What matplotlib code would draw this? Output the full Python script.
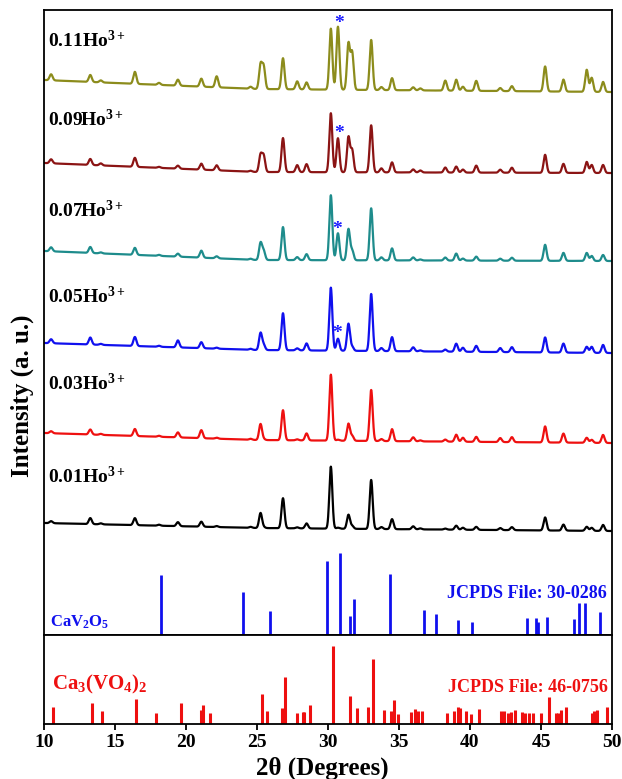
import numpy as np
import matplotlib
matplotlib.use('Agg')
import matplotlib.pyplot as plt

# --- data ---------------------------------------------------------------
# peak positions (2theta, deg) shared by all measured patterns
peak_pos = [10.5, 13.26, 14.0, 16.4, 18.1, 19.43, 21.08, 22.16, 24.55,
            25.25, 25.47, 26.83, 27.83, 28.49, 30.2, 30.7, 31.44, 31.7,
            33.04, 33.76, 34.51, 36.0, 36.5, 38.26, 39.03, 39.5, 40.44,
            42.13, 42.95, 45.29, 46.58, 48.22, 48.57, 49.37]

# peak heights above background (a.u.)
h_011 = [6, 7, 2, 12, 2, 6, 8, 11, 2, 24, 22, 31, 8, 7, 61, 63, 46, 37,
         50, 3, 12, 3, 2, 10, 11, 4, 10, 3, 5, 25, 12, 22, 14, 10]
h_009 = [4, 6, 2, 9, 1, 3, 6, 5, 1, 17, 16, 34, 7, 8, 59, 34, 35, 22,
         47, 4, 10, 3, 2, 5, 6, 3, 7, 3, 5, 18, 9, 11, 8, 8]
h_007 = [4, 6, 1, 7, 1, 3, 7, 2, 1, 17, 9, 33, 3, 6, 65, 27, 31, 10,
         52, 3, 12, 3, 1, 3, 7, 2, 4, 2, 3, 16, 8, 8, 5, 6]
h_005 = [4, 7, 1, 9, 1, 7, 6, 1, 1, 17, 5, 37, 2, 7, 63, 12, 27, 4,
         57, 3, 14, 4, 1, 2, 8, 4, 6, 4, 5, 15, 9, 6, 6, 8]
h_003 = [2, 5, 1, 7, 1, 5, 8, 1, 1, 16, 1, 30, 1, 7, 66, 1, 17, 5,
         51, 2, 12, 4, 1, 2, 7, 4, 5, 4, 5, 16, 9, 5, 3, 8]
h_001 = [2, 6, 1, 7, 1, 4, 5, 1, 1, 15, 1, 30, 1, 5, 62, 1, 14, 3,
         49, 2, 10, 3, 1, 1, 4, 2, 3, 2, 3, 13, 6, 4, 3, 6]

# background level at 10, 25 and 50 deg
bg_pos = [10, 25, 50]
bg_011 = [555, 546, 543]
bg_009 = [472, 463, 462]
bg_007 = [384, 375, 374]
bg_005 = [292, 285, 282]
bg_003 = [202, 195, 192]
bg_001 = [112, 107, 104]

samples = ['0.11', '0.09', '0.07', '0.05', '0.03', '0.01']
heights = [h_011, h_009, h_007, h_005, h_003, h_001]
backgrounds = [bg_011, bg_009, bg_007, bg_005, bg_003, bg_001]
colors = ['#8c8c1c', '#8b1414', '#1e8c8c', '#1010ee', '#ee1010', '#000000']

# asterisk (CaV2O5 impurity) marks: 2theta, height
star_pos = [30.76, 30.76, 30.65, 30.67]
star_y = [611, 502, 406, 301]

# CaV2O5, JCPDS 30-0286
cav_pos = [18.23, 24.04, 25.91, 29.9, 30.83, 31.58, 31.86, 34.39, 36.74,
           37.63, 39.13, 40.14, 44.0, 44.66, 44.82, 45.45, 47.33, 47.66,
           48.13, 49.16]
cav_int = [60, 43, 24, 74, 82, 19, 36, 61, 25, 21, 15, 13, 17, 17, 13, 18,
           16, 32, 32, 23]

# Ca3(VO4)2, JCPDS 46-0756
cvo_pos = [10.63, 13.37, 14.05, 16.51, 17.92, 19.63, 21.04, 21.22, 21.69,
           25.37, 25.7, 26.78, 26.97, 27.83, 28.21, 28.3, 28.7, 30.37,
           31.58, 32.05, 32.82, 33.18, 33.92, 34.44, 34.67, 34.91, 35.85,
           36.15, 36.31, 36.62, 38.38, 38.85, 39.13, 39.32, 39.69, 40.07,
           40.65, 42.17, 42.36, 42.71, 42.88, 43.18, 43.65, 43.88, 44.12,
           44.42, 44.99, 45.57, 46.04, 46.18, 46.41, 46.77, 48.57, 48.73,
           48.92, 49.67]
cvo_int = [17, 21, 13, 25, 11, 21, 14, 19, 11, 30, 13, 16, 47, 11, 12, 12,
           19, 78, 28, 16, 17, 65, 14, 13, 24, 10, 12, 15, 13, 13, 11, 13,
           17, 16, 13, 10, 15, 13, 13, 11, 12, 14, 12, 11, 11, 11, 11, 27,
           11, 11, 14, 17, 11, 13, 14, 17]

x_ticks = [10, 15, 20, 25, 30, 35, 40, 45, 50]

# --- style ---------------------------------------------------------------
plt.rcParams['font.family'] = 'Liberation Serif'
plt.rcParams['font.weight'] = 'bold'
plt.rcParams['mathtext.fontset'] = 'custom'
plt.rcParams['mathtext.rm'] = 'Liberation Serif:bold'
plt.rcParams['mathtext.bf'] = 'Liberation Serif:bold'
plt.rcParams['mathtext.it'] = 'Liberation Serif:bold:italic'

W, H = 622, 779
fig = plt.figure(figsize=(W / 100, H / 100), dpi=100)
left, right = 44 / W, 612 / W
ax = fig.add_axes([left, (H - 635) / H, right - left, 625 / H])
ax2 = fig.add_axes([left, (H - 724) / H, right - left, 89 / H])

x = np.linspace(10, 50, 4001)
sigma = 0.105
for name, hs, bg, c in zip(samples, heights, backgrounds, colors):
    y = np.interp(x, bg_pos, bg)
    for p, h in zip(peak_pos, hs):
        y = y + h * np.exp(-0.5 * ((x - p) / sigma) ** 2)
    ax.plot(x, y, color=c, lw=1.6)

label_y = [588, 509, 418, 332, 245, 152]
for name, ly in zip(samples, label_y):
    ax.text(10.3, ly, name + r'Ho$^{3+}$', fontsize=14, fontweight='bold',
            va='baseline', ha='left')

for sx, sy in zip(star_pos, star_y):
    ax.text(sx, sy, '*', color='#1a1aff', fontsize=14, ha='center',
            va='center', fontweight='bold')

ax.vlines(cav_pos, 0, cav_int, color='#1010ee', lw=2)
ax.text(10.4, 8, r'CaV$_2$O$_5$', color='#1010ee', fontsize=12,
        va='baseline', ha='left')
ax.text(49.6, 37, 'JCPDS File: 30-0286', color='#1010ee', fontsize=13,
        va='baseline', ha='right')

ax.set_xlim(10, 50)
ax.set_ylim(0, 625)
ax.set_xticks([])
ax.set_yticks([])

ax2.vlines(cvo_pos, 0, cvo_int, color='#ee1010', lw=2.2)
ax2.text(10.55, 35, r'Ca$_3$(VO$_4$)$_2$', color='#ee1010', fontsize=15,
         va='baseline', ha='left')
ax2.text(49.7, 32, 'JCPDS File: 46-0756', color='#ee1010', fontsize=13,
         va='baseline', ha='right')
ax2.set_xlim(10, 50)
ax2.set_ylim(0, 89)
ax2.set_yticks([])
ax2.set_xticks(x_ticks)
ax2.set_xticklabels([str(t) for t in x_ticks], fontsize=14, fontweight='bold')
ax2.tick_params(axis='x', direction='out', length=4, width=1.3, pad=3)

for a in (ax, ax2):
    for s in a.spines.values():
        s.set_linewidth(1.3)

fig.text(322 / W, 1 - 768 / H, '2θ (Degrees)', fontsize=18,
         fontweight='bold', ha='center', va='center')
fig.text(22 / W, 1 - 396 / H, 'Intensity (a. u.)', fontsize=18,
         fontweight='bold', ha='center', va='center', rotation=90)

fig.savefig('out.png', dpi=100)
